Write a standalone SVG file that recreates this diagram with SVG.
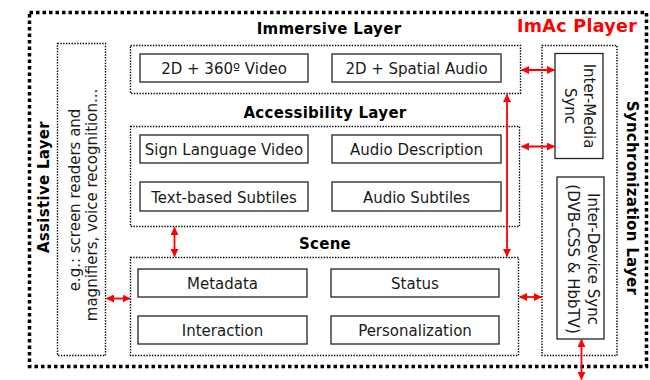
<svg xmlns="http://www.w3.org/2000/svg" width="650" height="380" viewBox="0 0 650 380">
  <defs>
    <marker id="ah" viewBox="0 0 8 8" refX="7.5" refY="4" markerWidth="8" markerHeight="8" markerUnits="userSpaceOnUse" orient="auto-start-reverse">
      <path d="M0,0 L8,4 L0,8 Z" fill="#ff0000"/>
    </marker>
    <style>
      .outer { fill: none; stroke: #000; stroke-width: 3.5; stroke-dasharray: 3.5 3; }
      .layer { fill: none; stroke: #000; stroke-width: 1.4; stroke-dasharray: 1.4 1.4; }
      .box { fill: #fff; stroke: #222; stroke-width: 1.3; }
      .lbl { font-family: "DejaVu Sans", Verdana, sans-serif; font-size: 15px; fill: #1a1a1a; text-anchor: middle; }
      .ttl { font-family: "DejaVu Sans", Verdana, sans-serif; font-size: 15px; font-weight: bold; fill: #000; text-anchor: middle; letter-spacing: 0.3px; }
      .brand { font-family: "DejaVu Sans", Verdana, sans-serif; font-size: 17.5px; font-weight: bold; fill: #ff0000; letter-spacing: 0.3px; }
      .link { fill: none; stroke: #ff0000; stroke-width: 1.8; marker-start: url(#ah); marker-end: url(#ah); }
    </style>
  </defs>

  <rect width="650" height="380" fill="#fff"/>

  <!-- player frame -->
  <g id="player">
    <rect class="outer" x="29.5" y="12.5" width="617" height="354"/>
    <text class="brand" x="517" y="32">ImAc Player</text>
  </g>

  <!-- immersive layer -->
  <g id="immersive-layer">
    <text class="ttl" x="329" y="34">Immersive Layer</text>
    <rect class="layer" x="130.5" y="45.5" width="390" height="48"/>
  </g>
  <g id="video-360">
    <rect class="box" x="140" y="54" width="168" height="28"/>
    <text class="lbl" x="224" y="74">2D + 360º Video</text>
  </g>
  <g id="spatial-audio">
    <rect class="box" x="332" y="54" width="169" height="28"/>
    <text class="lbl" x="416.5" y="74">2D + Spatial Audio</text>
  </g>

  <!-- accessibility layer -->
  <g id="accessibility-layer">
    <text class="ttl" x="325" y="117.5">Accessibility Layer</text>
    <rect class="layer" x="130.5" y="126.5" width="389" height="100"/>
  </g>
  <g id="sign-language">
    <rect class="box" x="140" y="135" width="168" height="28"/>
    <text class="lbl" x="224" y="155">Sign Language Video</text>
  </g>
  <g id="audio-description">
    <rect class="box" x="332" y="135" width="169" height="28"/>
    <text class="lbl" x="416.5" y="155">Audio Description</text>
  </g>
  <g id="text-subtitles">
    <rect class="box" x="140" y="182" width="168" height="29"/>
    <text class="lbl" x="224" y="202.5">Text-based Subtiles</text>
  </g>
  <g id="audio-subtitles">
    <rect class="box" x="332" y="182" width="169" height="29"/>
    <text class="lbl" x="416.5" y="202.5">Audio Subtiles</text>
  </g>

  <!-- scene -->
  <g id="scene">
    <text class="ttl" x="325" y="249">Scene</text>
    <rect class="layer" x="130.5" y="257.5" width="388" height="98"/>
  </g>
  <g id="metadata">
    <rect class="box" x="138" y="269" width="169" height="28"/>
    <text class="lbl" x="222.5" y="289">Metadata</text>
  </g>
  <g id="status">
    <rect class="box" x="331" y="269" width="168" height="28"/>
    <text class="lbl" x="415" y="289">Status</text>
  </g>
  <g id="interaction">
    <rect class="box" x="138" y="316" width="169" height="28"/>
    <text class="lbl" x="222.5" y="336">Interaction</text>
  </g>
  <g id="personalization">
    <rect class="box" x="331" y="316" width="168" height="28"/>
    <text class="lbl" x="415" y="336">Personalization</text>
  </g>

  <!-- assistive layer -->
  <g id="assistive-layer">
    <text class="ttl" transform="translate(48.5,187) rotate(-90)">Assistive Layer</text>
    <rect class="layer" x="57.5" y="43.5" width="48" height="312"/>
    <text class="lbl" transform="translate(80,200) rotate(-90)">e.g.: screen readers and</text>
    <text class="lbl" transform="translate(97,205) rotate(-90)">magnifiers, voice recognition...</text>
  </g>

  <!-- synchronization layer -->
  <g id="sync-layer">
    <rect class="layer" x="542" y="45.5" width="75" height="310"/>
    <text class="ttl" transform="translate(627,198) rotate(90)">Synchronization Layer</text>
  </g>
  <g id="inter-media-sync">
    <rect class="box" x="555" y="53.5" width="48" height="105"/>
    <text class="lbl" transform="translate(583.5,106) rotate(90)">Inter-Media</text>
    <text class="lbl" transform="translate(565,106) rotate(90)">Sync</text>
  </g>
  <g id="inter-device-sync">
    <rect class="box" x="557" y="177" width="47" height="162"/>
    <text class="lbl" transform="translate(588,259) rotate(90)">Inter-Device Sync</text>
    <text class="lbl" transform="translate(567.5,259) rotate(90)">(DVB-CSS &amp; HbbTV)</text>
  </g>

  <!-- connectors -->
  <g id="connectors">
    <line class="link" x1="521.5" y1="70" x2="554.5" y2="70"/>
    <line class="link" x1="521.5" y1="146.5" x2="554.5" y2="146.5"/>
    <line class="link" x1="507" y1="94.5" x2="507" y2="256.5"/>
    <line class="link" x1="174.5" y1="227.5" x2="174.5" y2="256.5"/>
    <line class="link" x1="106.5" y1="298.5" x2="130" y2="298.5"/>
    <line class="link" x1="519.5" y1="297" x2="541.5" y2="297"/>
    <line class="link" x1="581.5" y1="339.5" x2="581.5" y2="379.5"/>
  </g>
</svg>
